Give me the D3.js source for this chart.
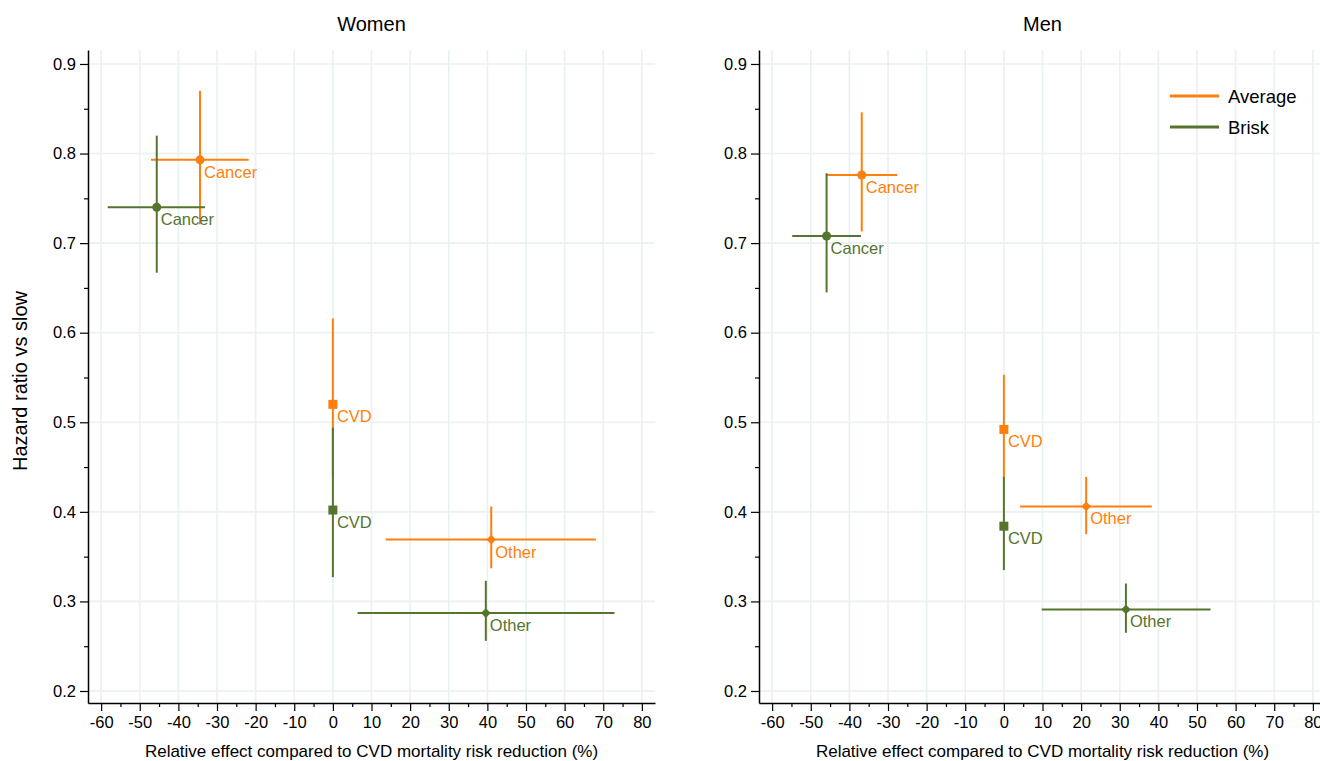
<!DOCTYPE html>
<html>
<head>
<meta charset="utf-8">
<script src="https://cdn.jsdelivr.net/npm/d3@7"></script>
<style>
  body { margin: 0; background: #fff; }
  svg { font-family: "Liberation Sans", Arial, sans-serif; }
</style>
</head>
<body>
<div id="chart"></div>
<script>
// categories / groups
var causes = ["Cancer", "CVD", "Other"];
var shapes = ["circle", "square", "diamond"];
var groups = ["Average", "Brisk"];
var panelTitles = ["Women", "Men"];

var xTicks = [-60, -50, -40, -30, -20, -10, 0, 10, 20, 30, 40, 50, 60, 70, 80];
var yTicks = [0.2, 0.3, 0.4, 0.5, 0.6, 0.7, 0.8, 0.9];

// Women, average pace
var womenAvgHR    = [0.793, 0.520, 0.369];
var womenAvgHRlo  = [0.721, 0.439, 0.337];
var womenAvgHRhi  = [0.870, 0.616, 0.406];
var womenAvgEff   = [-34.4, 0, 41.0];
var womenAvgEffLo = [-47.1, null, 13.7];
var womenAvgEffHi = [-21.8, null, 68.1];

// Women, brisk pace
var womenBriskHR    = [0.740, 0.402, 0.287];
var womenBriskHRlo  = [0.667, 0.327, 0.256];
var womenBriskHRhi  = [0.820, 0.494, 0.323];
var womenBriskEff   = [-45.6, 0, 39.6];
var womenBriskEffLo = [-58.3, null, 6.4];
var womenBriskEffHi = [-33.1, null, 72.9];

// Men, average pace
var menAvgHR    = [0.776, 0.492, 0.406];
var menAvgHRlo  = [0.713, 0.438, 0.375];
var menAvgHRhi  = [0.846, 0.553, 0.439];
var menAvgEff   = [-36.8, 0, 21.3];
var menAvgEffLo = [-45.9, null, 4.2];
var menAvgEffHi = [-27.6, null, 38.3];

// Men, brisk pace
var menBriskHR    = [0.708, 0.384, 0.291];
var menBriskHRlo  = [0.645, 0.335, 0.265];
var menBriskHRhi  = [0.778, 0.439, 0.320];
var menBriskEff   = [-45.9, 0, 31.6];
var menBriskEffLo = [-54.8, null, 9.8];
var menBriskEffHi = [-37.0, null, 53.5];

var colors = {Average: "#ff7f0e", Brisk: "#55752f"};
var gridColor = "#e9f1f3";

function series(hr, lo, hi, eff, effLo, effHi) {
    return causes.map(function(c, i) {
        return {cause: c, shape: shapes[i], hr: hr[i], lo: lo[i], hi: hi[i],
                eff: eff[i], effLo: effLo[i], effHi: effHi[i]};
    });
}

var panels = [
    {title: panelTitles[0], left: 88, data: {
        Average: series(womenAvgHR, womenAvgHRlo, womenAvgHRhi, womenAvgEff, womenAvgEffLo, womenAvgEffHi),
        Brisk:   series(womenBriskHR, womenBriskHRlo, womenBriskHRhi, womenBriskEff, womenBriskEffLo, womenBriskEffHi)}},
    {title: panelTitles[1], left: 759, data: {
        Average: series(menAvgHR, menAvgHRlo, menAvgHRhi, menAvgEff, menAvgEffLo, menAvgEffHi),
        Brisk:   series(menBriskHR, menBriskHRlo, menBriskHRhi, menBriskEff, menBriskEffLo, menBriskEffHi)}}
];

var W = 1320, H = 761;
var plotTop = 50, plotBottom = 703, innerW = 567;

var svg = d3.select("#chart").append("svg")
    .attr("width", W)
    .attr("height", H);

var y_scale = d3.scaleLinear().domain([0.1866, 0.9156]).range([plotBottom, plotTop]);

panels.forEach(function(p, pi) {
    var x_scale = d3.scaleLinear().domain([-63.4, 83.4]).range([0, innerW]);
    var g = svg.append("g").attr("transform", "translate(" + p.left + ",0)");

    //grid
    g.append("g").selectAll("line").data(xTicks).enter().append("line")
        .attr("x1", function(d) {return x_scale(d);})
        .attr("x2", function(d) {return x_scale(d);})
        .attr("y1", plotTop).attr("y2", plotBottom)
        .attr("stroke", gridColor).attr("stroke-width", 1.6);
    g.append("g").selectAll("line").data(yTicks).enter().append("line")
        .attr("x1", 0).attr("x2", innerW)
        .attr("y1", function(d) {return y_scale(d);})
        .attr("y2", function(d) {return y_scale(d);})
        .attr("stroke", gridColor).attr("stroke-width", 1.6);

    //minor ticks
    var xMinor = xTicks.slice(0, -1).map(function(d) {return d + 5;});
    var yMinor = yTicks.slice(0, -1).map(function(d) {return d + 0.05;});

    var x_axis = d3.axisBottom(x_scale).tickValues(xTicks).tickSize(8).tickSizeOuter(0)
        .tickFormat(function(d) {return String(d);});
    var gx = g.append("g").attr("transform", "translate(0," + plotBottom + ")").call(x_axis);
    gx.append("g").call(d3.axisBottom(x_scale).tickValues(xMinor).tickSize(4).tickFormat(""))
        .select(".domain").remove();

    var y_axis = d3.axisLeft(y_scale).tickValues(yTicks).tickSize(8).tickSizeOuter(0)
        .tickFormat(d3.format(".1f"));
    var gy = g.append("g").call(y_axis);
    gy.append("g").call(d3.axisLeft(y_scale).tickValues(yMinor).tickSize(4).tickFormat(""))
        .select(".domain").remove();

    g.selectAll(".domain").attr("stroke", "#000").attr("stroke-width", 1.5);
    g.selectAll(".tick line").attr("stroke", "#000").attr("stroke-width", 1.2);
    g.selectAll(".tick text").attr("font-size", "16.5px").attr("fill", "#000")
        .attr("font-family", "Liberation Sans, Arial, sans-serif");
    gx.selectAll(".tick text").attr("dy", "0.71em").attr("y", 13);
    gy.selectAll(".tick text").attr("x", -12);

    //Titles
    g.append("text")
        .attr("x", innerW / 2).attr("y", 31)
        .attr("text-anchor", "middle")
        .attr("font-size", "20px")
        .text(p.title);
    g.append("text")
        .attr("x", innerW / 2).attr("y", 757)
        .attr("text-anchor", "middle")
        .attr("font-size", "17px")
        .text("Relative effect compared to CVD mortality risk reduction (%)");

    //CIs and markers
    groups.forEach(function(grp) {
        var col = colors[grp];
        var gg = g.append("g");
        p.data[grp].forEach(function(d) {
            if (d.effLo !== null) {
                gg.append("line")
                    .attr("x1", x_scale(d.effLo)).attr("x2", x_scale(d.effHi))
                    .attr("y1", y_scale(d.hr)).attr("y2", y_scale(d.hr))
                    .attr("stroke", col).attr("stroke-width", 2);
            }
            gg.append("line")
                .attr("x1", x_scale(d.eff)).attr("x2", x_scale(d.eff))
                .attr("y1", y_scale(d.lo)).attr("y2", y_scale(d.hi))
                .attr("stroke", col).attr("stroke-width", 2);

            var cx = x_scale(d.eff), cy = y_scale(d.hr);
            if (d.shape === "circle") {
                gg.append("circle").attr("cx", cx).attr("cy", cy).attr("r", 4.5).attr("fill", col);
            } else if (d.shape === "square") {
                gg.append("rect").attr("x", cx - 4.5).attr("y", cy - 4.5)
                    .attr("width", 9).attr("height", 9).attr("fill", col);
            } else {
                gg.append("path")
                    .attr("d", d3.symbol().type(d3.symbolDiamond2).size(60)())
                    .attr("transform", "translate(" + cx + "," + cy + ")")
                    .attr("fill", col);
            }
            gg.append("text")
                .attr("x", cx + 4).attr("y", cy + 18)
                .attr("font-size", "16.5px")
                .attr("fill", col)
                .text(d.cause);
        });
    });

    //Legend in Men panel
    if (pi === 1) {
        groups.forEach(function(grp, i) {
            var ly = 96 + i * 31;
            g.append("line")
                .attr("x1", 1170 - p.left).attr("x2", 1219 - p.left)
                .attr("y1", ly).attr("y2", ly)
                .attr("stroke", colors[grp]).attr("stroke-width", 3);
            g.append("text")
                .attr("x", 1228 - p.left).attr("y", ly + 6.5)
                .attr("font-size", "18.5px")
                .text(grp);
        });
    }
});

//Y axis label
svg.append("text")
    .attr("transform", "translate(27,381) rotate(-90)")
    .attr("text-anchor", "middle")
    .attr("font-size", "20px")
    .text("Hazard ratio vs slow");
</script>
</body>
</html>
